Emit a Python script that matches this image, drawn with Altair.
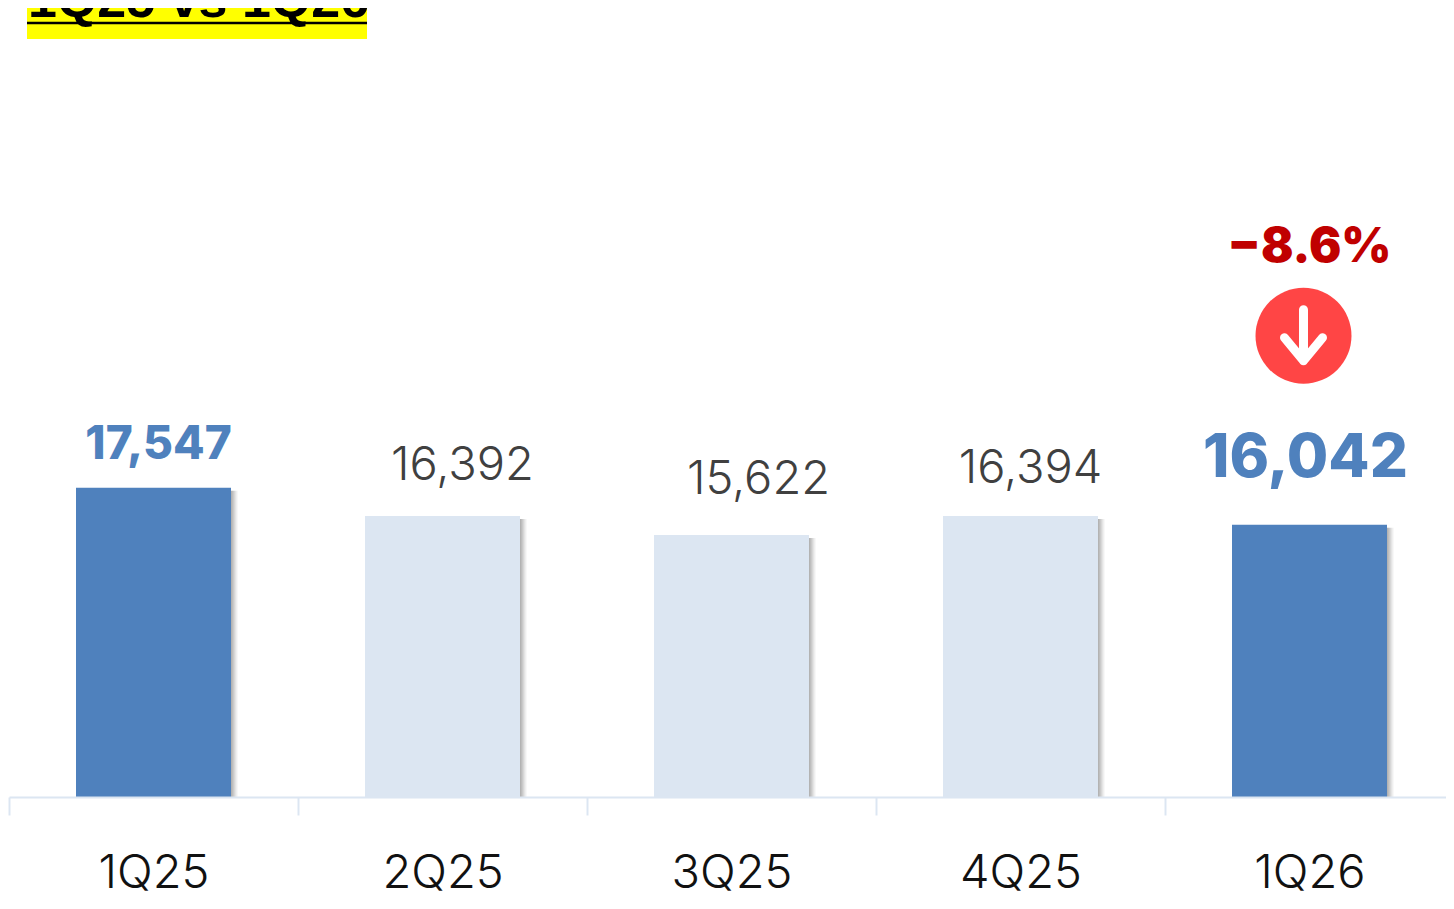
import altair as alt
import pandas as pd

quarters = ["1Q25", "2Q25", "3Q25", "4Q25", "1Q26"]
values = [17547, 16392, 15622, 16394, 16042]
highlight = [True, False, False, False, True]
labels = ["17,547", "16,392", "15,622", "16,394", "16,042"]
title_text = "1Q25 vs 1Q26"
change_text = "−8.6%"

BLUE = "#4F81BD"
PALE = "#DCE6F2"
AXIS = "#DCE6F2"
FONT = "Inter"

df = pd.DataFrame({"q": quarters, "v": values, "h": highlight, "label": labels})

x = alt.X("q:N", sort=quarters, title=None,
          scale=alt.Scale(range=[0, 1445], paddingInner=0, paddingOuter=0),
          axis=alt.Axis(labelAngle=0, labelFont=FONT, labelFontSize=47, labelColor="#111111",
                        labelFontWeight=300, labelPadding=72, labelBaseline="alphabetic",
                        tickSize=18, tickColor=AXIS, tickWidth=2, tickBand="extent",
                        domainColor=AXIS, domainWidth=2, grid=False, zindex=1))
y = alt.Y("v:Q", title=None, axis=None, scale=alt.Scale(domain=[5000, 37000], nice=False, zero=False))
y0 = alt.Y2(datum=5000)

layers = []
# soft shadow built from stacked translucent bars
shadow_steps = [(7, 3, 0.04), (6, 3, 0.05), (5, 3, 0.07), (4, 3, 0.09), (3, 3, 0.10), (2, 3, 0.10), (1, 3, 0.10)]
for dx, dy, op in shadow_steps:
    layers.append(alt.Chart(df).mark_bar(size=155, color="#555555", opacity=op, xOffset=dx, yOffset=dy)
                  .encode(x=x, y=y, y2=y0))

layers.append(alt.Chart(df).mark_bar(size=155).encode(
    x=x, y=y, y2=y0,
    color=alt.Color("h:N", legend=None, scale=alt.Scale(domain=[True, False], range=[BLUE, PALE]))))

# value labels: (index, dx, dy, size, weight, colour)
label_styles = [
    (0, 5, -43, 46, 800, BLUE),
    (1, 20, -50, 47, 300, "#404040"),
    (2, 27, -55, 47, 300, "#404040"),
    (3, 10, -47, 47, 300, "#404040"),
    (4, -4, -66, 60, 800, BLUE),
]
for i, dx, dy, size, weight, color in label_styles:
    layers.append(alt.Chart(df.iloc[[i]]).mark_text(
        font=FONT, fontSize=size, fontWeight=weight, color=color, dx=dx, dy=dy,
        baseline="middle", align="center").encode(x=x, y=y, text="label:N"))

last = df.iloc[[4]]
layers.append(alt.Chart(last).transform_calculate(t=f"'{change_text}'").mark_text(
    font=FONT, fontSize=48, fontWeight=900, color="#C00000", dx=0, dy=-277,
    baseline="middle", align="center").encode(x=x, y=y, text="t:N"))
layers.append(alt.Chart(last).mark_point(
    shape="circle", filled=True, size=9216, color="#FF4545", opacity=1, xOffset=-6, yOffset=-189
).encode(x=x, y=y))
layers.append(alt.Chart(last).mark_point(
    shape="M0,-1.04 L0,1 M-0.76,0.08 L0,1 L0.76,0.08", filled=False, size=2500, color="white", opacity=1,
    strokeWidth=9, strokeCap="round", strokeJoin="round", xOffset=-6, yOffset=-189
).encode(x=x, y=y))

# highlighted, underlined heading
layers.append(alt.Chart(df.iloc[[0]]).mark_rect(color="#FFFF00").encode(
    x=alt.value(18), x2=alt.value(358), y=alt.value(-8), y2=alt.value(31)))
layers.append(alt.Chart(df.iloc[[0]]).transform_calculate(t=f"'{title_text}'").mark_text(
    font="Liberation Sans", fontSize=52, fontWeight="bold", color="black", align="left",
    baseline="alphabetic").encode(x=alt.value(19), y=alt.value(9), text="t:N"))
layers.append(alt.Chart(df.iloc[[0]]).mark_rule(color="black", strokeWidth=2.5).encode(
    x=alt.value(18), x2=alt.value(358), y=alt.value(15)))

chart = alt.layer(*layers).properties(
    width=1437, height=789, autosize=alt.AutoSizeParams(type="none"),
    padding={"left": 1, "right": 0, "top": 0, "bottom": 104},
    background="white",
).configure_view(stroke=None)

chart.save("out.html", embed_options={"renderer": "svg", "actions": False})
